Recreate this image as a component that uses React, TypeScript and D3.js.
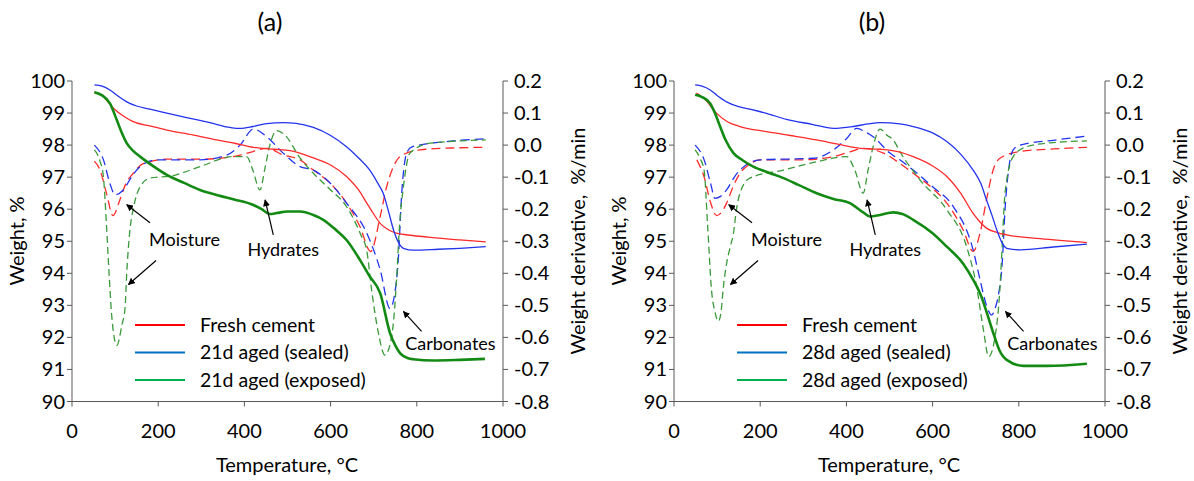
import React from 'react'
import * as d3 from 'd3'

type Pt = [number, number]

// panel (a) - 21 days
const freshWeightA: Pt[] = [[52,99.65],[70,99.55],[96,99.15],[120,98.9],[142,98.73],[180,98.6],[220,98.47],[280,98.32],[336,98.16],[380,98.05],[421,97.93],[470,97.87],[506,97.83],[560,97.6],[600,97.38],[637,97.02],[665,96.6],[684,96.19],[700,95.85],[715,95.56],[735,95.35],[753,95.25],[790,95.18],[831,95.12],[900,95.04],[960,94.98]]
const sealedWeightA: Pt[] = [[52,99.88],[70,99.84],[88,99.72],[105,99.55],[127,99.35],[150,99.22],[181,99.12],[220,99.0],[266,98.86],[320,98.7],[367,98.55],[390,98.52],[420,98.58],[452,98.67],[490,98.7],[520,98.68],[560,98.55],[600,98.3],[637,97.95],[665,97.6],[691,97.22],[710,96.8],[722,96.5],[735,95.9],[746,95.35],[758,94.95],[769,94.78],[792,94.72],[850,94.75],[900,94.78],[960,94.83]]
const exposedWeightA: Pt[] = [[52,99.65],[70,99.55],[88,99.3],[104,98.78],[115,98.4],[127,98.06],[142,97.82],[158,97.64],[190,97.33],[220,97.07],[260,96.82],[297,96.6],[340,96.43],[374,96.31],[421,96.13],[440,96.0],[459,95.85],[475,95.88],[500,95.93],[529,95.93],[560,95.82],[583,95.67],[610,95.38],[637,95.04],[668,94.42],[691,93.9],[715,93.38],[738,92.13],[750,91.75],[761,91.51],[780,91.35],[792,91.32],[838,91.28],[900,91.3],[958,91.33]]
const freshDerivA: Pt[] = [[52,-0.05],[65,-0.078],[80,-0.15],[95,-0.22],[111,-0.171],[125,-0.12],[142,-0.088],[160,-0.062],[181,-0.052],[220,-0.044],[297,-0.044],[374,-0.036],[420,-0.02],[452,-0.01],[490,-0.031],[529,-0.046],[560,-0.078],[600,-0.12],[637,-0.181],[668,-0.254],[693,-0.332],[715,-0.223],[730,-0.13],[745,-0.07],[761,-0.036],[807,-0.015],[880,-0.009],[960,-0.007]]
const sealedDerivA: Pt[] = [[52,0.0],[73,-0.046],[88,-0.12],[100,-0.155],[119,-0.14],[140,-0.095],[158,-0.067],[196,-0.046],[297,-0.046],[359,-0.031],[390,0.0],[421,0.05],[452,0.026],[490,-0.025],[529,-0.067],[560,-0.078],[600,-0.12],[637,-0.181],[684,-0.275],[715,-0.389],[738,-0.51],[748,-0.47],[757,-0.358],[765,-0.15],[778,-0.02],[790,-0.005],[869,0.011],[960,0.02]]
const exposedDerivA: Pt[] = [[52,-0.015],[65,-0.05],[73,-0.1],[80,-0.25],[86,-0.4],[92,-0.53],[104,-0.625],[116,-0.56],[123,-0.51],[127,-0.4],[134,-0.27],[142,-0.2],[150,-0.155],[158,-0.13],[181,-0.103],[235,-0.095],[297,-0.067],[374,-0.036],[405,-0.036],[420,-0.08],[436,-0.14],[448,-0.07],[459,0.0],[475,0.045],[495,0.03],[529,-0.04],[560,-0.088],[600,-0.14],[637,-0.192],[670,-0.28],[684,-0.33],[695,-0.45],[710,-0.58],[726,-0.655],[740,-0.61],[748,-0.52],[753,-0.42],[760,-0.25],[769,-0.13],[784,-0.025],[831,0.006],[960,0.016]]

// panel (b) - 28 days
const freshWeightB: Pt[] = [[52,99.62],[70,99.45],[99,98.99],[125,98.72],[153,98.58],[215,98.42],[270,98.3],[331,98.16],[380,98.03],[432,97.9],[478,97.87],[524,97.78],[555,97.64],[600,97.35],[633,97.02],[665,96.5],[694,95.87],[710,95.6],[725,95.41],[750,95.27],[772,95.2],[850,95.08],[958,94.96]]
const sealedWeightB: Pt[] = [[49,99.88],[65,99.84],[84,99.72],[100,99.55],[122,99.35],[150,99.2],[176,99.12],[220,98.97],[261,98.8],[320,98.65],[370,98.52],[416,98.58],[450,98.66],[478,98.7],[524,98.66],[555,98.58],[600,98.38],[633,98.11],[665,97.72],[694,97.22],[712,96.8],[725,96.29],[738,95.8],[749,95.35],[760,94.98],[772,94.78],[803,94.73],[880,94.82],[958,94.91]]
const exposedWeightB: Pt[] = [[49,99.57],[65,99.5],[84,99.3],[95,99.0],[107,98.58],[120,98.15],[138,97.75],[160,97.52],[184,97.33],[220,97.14],[254,96.97],[290,96.75],[331,96.5],[370,96.32],[408,96.19],[439,95.9],[455,95.77],[478,95.82],[509,95.9],[530,95.85],[555,95.67],[600,95.25],[633,94.83],[671,94.3],[694,93.8],[710,93.38],[741,92.13],[755,91.6],[772,91.3],[811,91.11],[865,91.11],[958,91.18]]
const freshDerivB: Pt[] = [[53,-0.046],[70,-0.1],[85,-0.18],[99,-0.22],[110,-0.21],[122,-0.181],[137,-0.13],[153,-0.088],[175,-0.06],[200,-0.046],[292,-0.046],[370,-0.036],[410,-0.02],[439,-0.01],[486,-0.025],[524,-0.057],[555,-0.088],[600,-0.135],[633,-0.181],[671,-0.265],[694,-0.332],[710,-0.275],[725,-0.171],[740,-0.08],[756,-0.041],[803,-0.02],[880,-0.012],[958,-0.007]]
const sealedDerivB: Pt[] = [[49,0.0],[70,-0.046],[85,-0.12],[95,-0.166],[108,-0.16],[122,-0.14],[140,-0.1],[153,-0.078],[200,-0.046],[323,-0.041],[370,-0.015],[400,0.02],[424,0.052],[445,0.04],[462,0.026],[501,-0.025],[524,-0.046],[555,-0.078],[600,-0.13],[648,-0.192],[694,-0.327],[710,-0.42],[725,-0.5],[737,-0.53],[745,-0.51],[752,-0.473],[762,-0.358],[768,-0.202],[777,-0.07],[787,-0.015],[803,0.0],[880,0.015],[958,0.028]]
const exposedDerivB: Pt[] = [[49,-0.015],[60,-0.04],[70,-0.08],[78,-0.25],[87,-0.452],[95,-0.52],[103,-0.55],[110,-0.51],[114,-0.45],[122,-0.37],[130,-0.32],[138,-0.275],[145,-0.2],[153,-0.15],[176,-0.103],[254,-0.078],[331,-0.052],[401,-0.036],[420,-0.08],[439,-0.15],[450,-0.08],[462,-0.005],[478,0.05],[495,0.03],[509,0.016],[524,-0.02],[571,-0.109],[633,-0.202],[679,-0.317],[702,-0.441],[718,-0.577],[730,-0.66],[745,-0.597],[756,-0.452],[762,-0.3],[768,-0.15],[787,-0.036],[818,-0.005],[880,0.008],[958,0.013]]

const tempTicks = [0, 200, 400, 600, 800, 1000]
const weightTicks = [90, 91, 92, 93, 94, 95, 96, 97, 98, 99, 100]
const derivTicks = [-0.8, -0.7, -0.6, -0.5, -0.4, -0.3, -0.2, -0.1, 0.0, 0.1, 0.2]
const legendA = ['Fresh cement', '21d aged (sealed)', '21d aged (exposed)']
const legendB = ['Fresh cement', '28d aged (sealed)', '28d aged (exposed)']

const FONT = 'Lato, "Open Sans", sans-serif'

function Panel(props: any) {
  const { left, title, legend, fw, sw, ew, fd, sd, ed } = props
  const x = d3.scaleLinear().domain([0, 1000]).range([left, left + 431])
  const yW = d3.scaleLinear().domain([90, 100]).range([401.5, 81])
  const yD = d3.scaleLinear().domain([-0.8, 0.2]).range([401.5, 81])
  const top = 81, bottom = 401.5, right = left + 431
  const lineW = d3.line<Pt>().x(d => x(d[0])).y(d => yW(d[1])).curve(d3.curveMonotoneX)
  const lineD = d3.line<Pt>().x(d => x(d[0])).y(d => yD(d[1])).curve(d3.curveMonotoneX)
  const axisCol = '#595959'

  // annotations in data units: text [T, W], arrows [[T,W],[T,W]]
  const notes = [
    { text: 'Moisture', at: [261, 95.05], arrows: [[[181, 95.58], [127, 96.14]], [[195, 94.4], [131, 93.65]]] },
    { text: 'Hydrates', at: [490, 94.73], arrows: [[[467, 95.2], [448, 96.29]]] },
    { text: 'Carbonates', at: [878, 91.8], arrows: [[[811, 92.19], [769, 92.81]]] },
  ]
  const legCols = ['#ff0000', '#0070c0', '#00b050']

  return (
    <g>
      <text x={left + 198} y={31} fontSize={25} textAnchor="middle" fontFamily={FONT}>{title}</text>
      {/* data */}
      <path d={lineD(fd) || ''} fill="none" stroke="#ff2a2a" strokeWidth={1.3} strokeDasharray="9,5" />
      <path d={lineD(sd) || ''} fill="none" stroke="#2233ee" strokeWidth={1.3} strokeDasharray="9,5" />
      <path d={lineD(ed) || ''} fill="none" stroke="#3a9a3a" strokeWidth={1.3} strokeDasharray="7,4" />
      <path d={lineW(fw) || ''} fill="none" stroke="#ff2a2a" strokeWidth={1.3} />
      <path d={lineW(sw) || ''} fill="none" stroke="#2233ee" strokeWidth={1.3} />
      <path d={lineW(ew) || ''} fill="none" stroke="#138a13" strokeWidth={2.6} />
      {/* axes */}
      <line x1={left} x2={left} y1={top} y2={bottom} stroke={axisCol} />
      <line x1={right} x2={right} y1={top} y2={bottom} stroke={axisCol} />
      <line x1={left} x2={right} y1={bottom} y2={bottom} stroke={axisCol} />
      {weightTicks.map(t => (
        <g key={'w' + t}>
          <line x1={left - 5} x2={left} y1={yW(t)} y2={yW(t)} stroke={axisCol} />
          <text x={left - 7} y={yW(t)} dy="0.35em" textAnchor="end" fontSize={20} fontFamily={FONT}>{t}</text>
        </g>
      ))}
      {derivTicks.map(t => (
        <g key={'d' + t}>
          <line x1={right} x2={right + 5} y1={yD(t)} y2={yD(t)} stroke={axisCol} />
          <text x={right + 11} y={yD(t)} dy="0.35em" textAnchor="start" fontSize={20} fontFamily={FONT}>{Math.abs(t) < 1e-9 ? '0.0' : t.toFixed(1)}</text>
        </g>
      ))}
      {tempTicks.map(t => (
        <g key={'t' + t}>
          <line x1={x(t)} x2={x(t)} y1={bottom} y2={bottom + 5} stroke={axisCol} />
          <text x={x(t)} y={bottom + 29} dy="0.35em" textAnchor="middle" fontSize={20} fontFamily={FONT}>{t}</text>
        </g>
      ))}
      <text x={left + 215} y={465} dy="0.35em" textAnchor="middle" fontSize={20} fontFamily={FONT}>Temperature, °C</text>
      <text transform={`translate(${left - 55},241) rotate(-90)`} dy="0.35em" textAnchor="middle" fontSize={20} fontFamily={FONT}>Weight, %</text>
      <text transform={`translate(${right + 75},241) rotate(-90)`} dy="0.35em" textAnchor="middle" fontSize={20} fontFamily={FONT} style={{ whiteSpace: 'pre' }}>Weight derivative,  %/min</text>
      {/* annotations */}
      {notes.map(n => (
        <g key={n.text}>
          <text x={x(n.at[0])} y={yW(n.at[1])} dy="0.35em" textAnchor="middle" fontSize={18} fontFamily={FONT}>{n.text}</text>
          {n.arrows.map((a: any, i: number) => (
            <line key={i} x1={x(a[0][0])} y1={yW(a[0][1])} x2={x(a[1][0])} y2={yW(a[1][1])} stroke="#000" strokeWidth={1.2} markerEnd="url(#arrow)" />
          ))}
        </g>
      ))}
      {/* legend */}
      {legend.map((l: string, i: number) => (
        <g key={l} transform={`translate(${left + 63},${325 + i * 27.5})`}>
          <line x1={0} x2={50} y1={0} y2={0} stroke={legCols[i]} strokeWidth={2} />
          <text x={65} y={0} dy="0.35em" fontSize={19.5} fontFamily={FONT}>{l}</text>
        </g>
      ))}
    </g>
  )
}

export default function App() {
  return (
    <svg width={1194} height={481} style={{ position: 'absolute', left: 0, top: 0, background: '#fff' }}>
      <defs>
        <marker id="arrow" viewBox="0 0 10 10" refX="9" refY="5" markerWidth="7" markerHeight="7" orient="auto" markerUnits="userSpaceOnUse">
          <path d="M0,0 L10,5 L0,10 z" fill="#000" />
        </marker>
      </defs>
      <Panel left={72} title="(a)" legend={legendA} fw={freshWeightA} sw={sealedWeightA} ew={exposedWeightA} fd={freshDerivA} sd={sealedDerivA} ed={exposedDerivA} />
      <Panel left={674} title="(b)" legend={legendB} fw={freshWeightB} sw={sealedWeightB} ew={exposedWeightB} fd={freshDerivB} sd={sealedDerivB} ed={exposedDerivB} />
    </svg>
  )
}
